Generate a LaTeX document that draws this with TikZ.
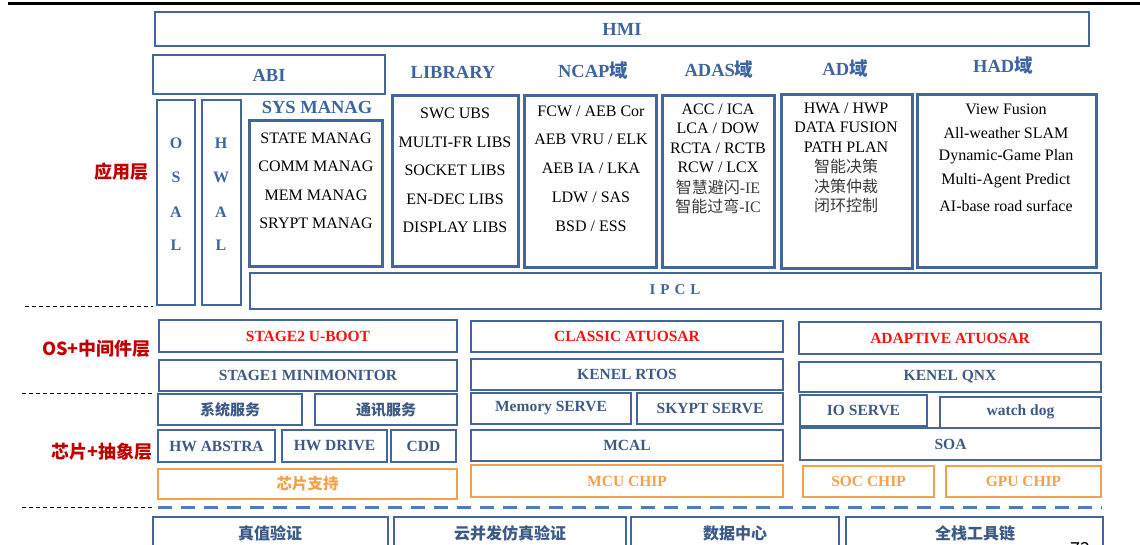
\documentclass[tikz,border=0pt]{standalone}
\usepackage{fontspec}
\setmainfont{Liberation Serif}
\newfontfamily\cjk{Noto Sans CJK SC}
\definecolor{boxblue}{HTML}{43679A}
\definecolor{titleblue}{HTML}{3E64A0}
\definecolor{osblue}{HTML}{3D5A86}
\definecolor{redlab}{HTML}{C00000}
\definecolor{redtxt}{HTML}{FF1010}
\definecolor{orangec}{HTML}{F5A04A}
\definecolor{dashblue}{HTML}{4F7DBA}
\definecolor{zhgray}{HTML}{3A3A3A}
\newcommand\zh[1]{{\cjk #1}}
\newcommand\bx[7]{\node[#6, minimum width={#4-#2}, minimum height={#5-#3}] (#1) at ({(#2+#4)/2},{(#3+#5)/2}) {#7};}
\begin{document}
\begin{tikzpicture}[x=1pt,y=-1pt,
  thinbox/.style={draw=boxblue, line width=1.6pt, inner sep=0pt, outer sep=0pt},
  midbox/.style={draw=boxblue, line width=2.2pt, inner sep=0pt, outer sep=0pt},
  modbox/.style={draw=boxblue, line width=3pt, inner sep=0pt, outer sep=0pt},
  orbox/.style={draw=orangec, line width=1.8pt, inner sep=0pt, outer sep=0pt, text=orangec, font=\fontsize{15.5}{17}\selectfont\bfseries},
  ostext/.style={text=osblue, font=\fontsize{15.5}{17}\selectfont\bfseries},
  osred/.style={text=redtxt, font=\fontsize{15.5}{17}\selectfont\bfseries},
  oszh/.style={text=osblue, font=\fontsize{15}{17}\selectfont\cjk\bfseries},
  titlet/.style={text=titleblue, font=\fontsize{18.5}{20}\selectfont\bfseries, inner sep=0pt},
  item/.style={font=\fontsize{16}{18}\selectfont, inner sep=0pt},
  zhitem/.style={text=zhgray, font=\fontsize{16}{18}\selectfont\cjk, inner sep=0pt},
  layer/.style={text=redlab, font=\fontsize{18}{20}\selectfont\cjk\bfseries, inner sep=0pt},
  sep/.style={black, line width=0.9pt, dash pattern=on 4pt off 3pt},
  bottomzh/.style={text=osblue, font=\fontsize{16}{18}\selectfont\cjk\bfseries}
]
\useasboundingbox (0,0) rectangle (1140,545);
% top rule
\coordinate (tl) at (8,3.5); \coordinate (tr) at (1140,3.5);
\draw[line width=3.5pt, black] (tl) -- (tr);

% HMI / ABI
\bx{hmi}{155}{12}{1089}{46}{midbox}{}
\node[titlet] (hmit) at (hmi.center) {HMI};
\bx{abi}{153}{55}{385}{94}{midbox}{}
\node[titlet] (abit) at ([yshift=-1pt]abi.center) {ABI};

% domain titles
\node[titlet] (libt) at (453,72) {LIBRARY};
\node[titlet] (ncapt) at (593,70) {NCAP\zh{域}};
\node[titlet] (adast) at (719,69) {ADAS\zh{域}};
\node[titlet] (adt) at (845,68) {AD\zh{域}};
\node[titlet] (hadt) at (1003,65) {HAD\zh{域}};
\node[titlet] (syst) at (317,107) {SYS MANAG};

% OSAL / HWAL
\bx{osal}{157}{100}{195}{305}{thinbox}{}
\bx{hwal}{202}{100}{241}{305}{thinbox}{}
\foreach \l/\yy [count=\i] in {O/143,S/177,A/212,L/245}{
  \node[titlet, font=\fontsize{16}{18}\selectfont\bfseries] (osal\i) at (176,\yy) {\l};}
\foreach \l/\yy [count=\i] in {H/143,W/177,A/212,L/245}{
  \node[titlet, font=\fontsize{16}{18}\selectfont\bfseries] (hwal\i) at (221,\yy) {\l};}

% SYS MANAG
\bx{sys}{249}{121}{382}{267}{modbox}{}
\foreach \t/\yy [count=\i] in {{STATE MANAG}/138,{COMM MANAG}/166,{MEM MANAG}/195,{SRYPT MANAG}/223}{
  \node[item] (sys\i) at (316,\yy) {\t};}

% LIBRARY
\bx{lib}{392}{96}{518}{267}{modbox}{}
\foreach \t/\yy [count=\i] in {{SWC UBS}/113,{MULTI-FR LIBS}/142,{SOCKET LIBS}/170,{EN-DEC LIBS}/199,{DISPLAY LIBS}/227}{
  \node[item] (lib\i) at (455,\yy) {\t};}

% NCAP
\bx{ncap}{524}{96}{656}{268}{modbox}{}
\foreach \t/\yy [count=\i] in {{FCW / AEB Cor}/111,{AEB VRU / ELK}/139,{AEB IA / LKA}/168,{LDW / SAS}/197,{BSD / ESS}/226}{
  \node[item] (ncap\i) at (591,\yy) {\t};}

% ADAS
\bx{adas}{662}{96}{774}{268}{modbox}{}
\foreach \t/\yy [count=\i] in {{ACC / ICA}/109,{LCA / DOW}/128,{RCTA / RCTB}/148,{RCW / LCX}/167}{
  \node[item] (adas\i) at (718,\yy) {\t};}
\node[zhitem] (adas5) at (718,187) {智慧避闪\rmfamily -IE};
\node[zhitem] (adas6) at (718,206) {智能过弯\rmfamily -IC};

% AD
\bx{ad}{781}{95}{912}{269}{modbox}{}
\foreach \t/\yy [count=\i] in {{HWA / HWP}/108,{DATA FUSION}/127,{PATH PLAN}/147}{
  \node[item] (ad\i) at (846,\yy) {\t};}
\foreach \t/\yy [count=\i] in {智能决策/166,决策仲裁/186,闭环控制/205}{
  \node[zhitem] (adz\i) at (846,\yy) {\t};}

% HAD
\bx{had}{917}{95}{1096}{268}{modbox}{}
\foreach \t/\yy [count=\i] in {{View Fusion}/109,{All-weather SLAM}/133,{Dynamic-Game Plan}/157,{Multi-Agent Predict}/181,{AI-base road surface}/206}{
  \node[item] (had\i) at (1006,\yy) {\t};}

% IPCL
\bx{ipcl}{250}{273}{1101}{309}{thinbox}{}
\node[titlet, font=\fontsize{15}{17}\selectfont\bfseries] (ipclt) at (675,290) {I\hspace{5pt}P\hspace{5pt}C\hspace{5pt}L};

% layer labels
\node[layer, anchor=east] (l1) at (149,172) {应用层};
\node[layer, anchor=east] (l2) at (151,349) {OS+中间件层};
\node[layer, anchor=east] (l3) at (153,452) {芯片+抽象层};
\coordinate (s1a) at (25,306); \coordinate (s1b) at (153,306);
\coordinate (s2a) at (22,393); \coordinate (s2b) at (153,393);
\coordinate (s3a) at (22,507); \coordinate (s3b) at (155,507);
\draw[sep] (s1a) -- (s1b);
\draw[sep] (s2a) -- (s2b);
\draw[sep] (s3a) -- (s3b);

% OS + middleware, left column
\bx{uboot}{159}{320}{457}{352}{thinbox}{}
\node[osred] (ubt) at (uboot.center) {STAGE2 U-BOOT};
\bx{mini}{159}{360}{457}{391}{thinbox}{}
\node[ostext] (minit) at (mini.center) {STAGE1 MINIMONITOR};
\bx{xtfw}{158}{394}{302}{425}{thinbox}{}
\node[oszh] (xtfwt) at (xtfw.center) {系统服务};
\bx{txfw}{315}{394}{457}{425}{thinbox}{}
\node[oszh] (txfwt) at (txfw.center) {通讯服务};
\bx{hwa}{158}{430}{275}{462}{thinbox}{}
\node[ostext] (hwat) at (hwa.center) {HW ABSTRA};
\bx{hwd}{282}{430}{387}{462}{thinbox}{}
\node[ostext] (hwdt) at (hwd.center) {HW DRIVE};
\bx{cdd}{391}{430}{456}{462}{thinbox}{}
\node[ostext] (cddt) at (cdd.center) {CDD};
\bx{chip}{158}{469}{457}{499}{orbox}{\cjk\bfseries 芯片支持}

% middle column
\bx{classic}{471}{321}{783}{352}{thinbox}{}
\node[osred] (classict) at (classic.center) {CLASSIC ATUOSAR};
\bx{rtos}{471}{359}{783}{390}{thinbox}{}
\node[ostext] (rtost) at (rtos.center) {KENEL RTOS};
\bx{mem}{471}{393}{631}{424}{thinbox}{}
\node[ostext] (memt) at (mem.center) {Memory SERVE};
\bx{skypt}{637}{393}{783}{424}{thinbox}{}
\node[ostext] (skyptt) at (skypt.center) {SKYPT SERVE};
\bx{mcal}{471}{430}{783}{461}{thinbox}{}
\node[ostext] (mcalt) at (mcal.center) {MCAL};
\bx{mcu}{471}{465}{783}{497}{orbox}{MCU CHIP}

% right column
\bx{adaptive}{799}{322}{1101}{354}{thinbox}{}
\node[osred] (adaptivet) at (adaptive.center) {ADAPTIVE ATUOSAR};
\bx{qnx}{799}{362}{1101}{392}{thinbox}{}
\node[ostext] (qnxt) at (qnx.center) {KENEL QNX};
\bx{io}{800}{395}{927}{426}{thinbox}{}
\node[ostext] (iot) at (io.center) {IO SERVE};
\bx{wd}{940}{397}{1101}{428}{thinbox}{}
\node[ostext] (wdt) at ([yshift=1pt]wd.center) {watch dog};
\bx{soa}{800}{428}{1101}{460}{thinbox}{}
\node[ostext] (soat) at (soa.center) {SOA};
\bx{soc}{803}{466}{934}{497}{orbox}{SOC CHIP}
\bx{gpu}{946}{466}{1101}{497}{orbox}{GPU CHIP}

% blue dashed separator
\coordinate (bda) at (158,507); \coordinate (bdb) at (1102,507);
\draw[dashblue, line width=3pt, dash pattern=on 14pt off 9pt] (bda) -- (bdb);

% bottom row (clipped by page)
\bx{zz}{153}{517}{388}{570}{thinbox}{}
\node[bottomzh] (zzt) at (270,533) {真值验证};
\bx{yb}{394}{517}{626}{570}{thinbox}{}
\node[bottomzh] (ybt) at (510,533) {云并发仿真验证};
\bx{sj}{631}{517}{839}{570}{thinbox}{}
\node[bottomzh] (sjt) at (735,533) {数据中心};
\bx{qz}{846}{517}{1103}{570}{thinbox}{}
\node[bottomzh] (qzt) at (975,533) {全栈工具链};
\node[font=\fontsize{18}{20}\selectfont\cjk] (pg) at (1080,549) {72};
\end{tikzpicture}
\end{document}
